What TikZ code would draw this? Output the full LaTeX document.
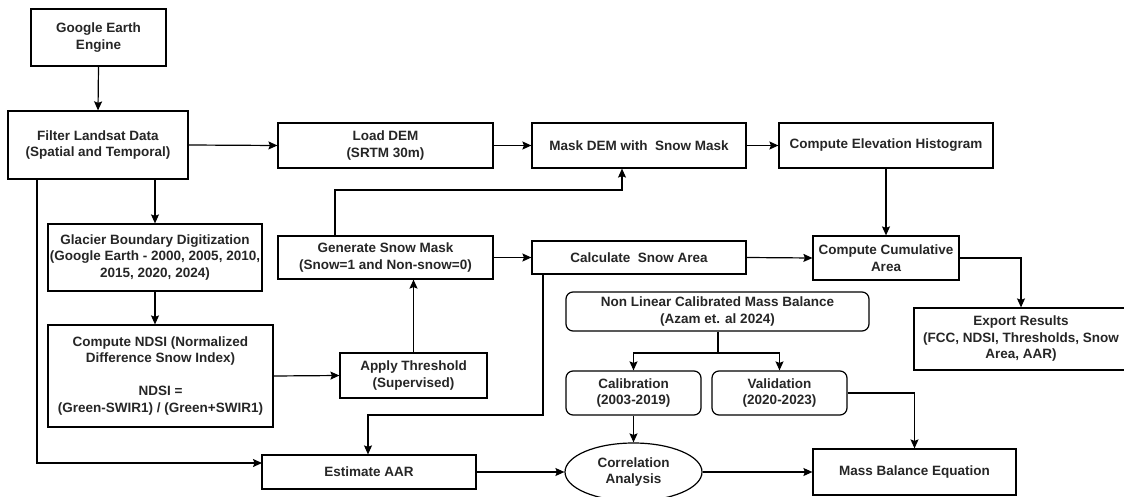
\documentclass[tikz,border=0pt]{standalone}
\usepackage{fontspec}
\setmainfont{Liberation Sans}
\usetikzlibrary{arrows.meta,shapes.geometric}
\begin{document}
\begin{tikzpicture}[x=1pt,y=-1pt,
  every node/.style={font=\fontsize{13.5}{16.5}\selectfont\bfseries, text=black!85, align=center, inner sep=0pt},
  box/.style={draw, line width=1.2pt, rectangle},
  rbox/.style={draw, line width=1.2pt, rectangle, rounded corners=7pt},
  oval/.style={draw, line width=1.2pt, ellipse},
  conn/.style={draw, line width=1.2pt, -{Stealth[length=9pt,width=8pt,inset=1.5pt]}},
  plain/.style={draw, line width=1.2pt}]
\useasboundingbox (0,0) rectangle (1124,497);
\fill[white] (0,0) rectangle (1124,497);
% nodes
\node[box, minimum width=135, minimum height=57] (gee) at (98.5,37.5) {Google Earth\\Engine};
\node[box, minimum width=180, minimum height=68] (filt) at (98,145) {Filter Landsat Data\\(Spatial and Temporal)};
\node[box, minimum width=215, minimum height=45] (dem) at (385.5,145.5) {Load DEM\\(SRTM 30m)};
\node[box, minimum width=214, minimum height=45] (mask) at (639,145.5) {Mask DEM with\ \ Snow Mask};
\node[box, minimum width=214, minimum height=45] (hist) at (886,145.5) {Compute Elevation Histogram};
\node[box, minimum width=214, minimum height=67] (glac) at (155,257.5) {Glacier Boundary Digitization\\(Google Earth - 2000, 2005, 2010,\\2015, 2020, 2024)};
\node[box, minimum width=225, minimum height=102] (ndsi) at (160.5,376) {Compute NDSI (Normalized\\Difference Snow Index)\\[16.5pt]NDSI =\\(Green-SWIR1) / (Green+SWIR1)};
\node[box, minimum width=215, minimum height=43] (gsm) at (385.5,257.5) {Generate Snow Mask\\(Snow=1 and Non-snow=0)};
\node[box, minimum width=147, minimum height=45] (thr) at (413.5,375.5) {Apply Threshold\\(Supervised)};
\node[box, minimum width=214, minimum height=33] (csa) at (639,257.5) {Calculate\ \ Snow Area};
\node[box, minimum width=146, minimum height=44] (cum) at (886,258) {Compute Cumulative\\Area};
\node[rbox, minimum width=303, minimum height=39] (nlc) at (717.5,311.5) {Non Linear Calibrated Mass Balance\\(Azam et. al 2024)};
\node[rbox, minimum width=135, minimum height=44] (cal) at (633.5,393) {Calibration\\(2003-2019)};
\node[rbox, minimum width=135, minimum height=44] (val) at (779.5,393) {Validation\\(2020-2023)};
\node[box, minimum width=214, minimum height=62] (exp) at (1021,339) {Export Results\\(FCC, NDSI, Thresholds, Snow\\Area, AAR)};
\node[box, minimum width=214, minimum height=34] (aar) at (369,472) {Estimate AAR};
\node[oval, minimum width=137, minimum height=58] (corr) at (633.5,472) {Correlation\\Analysis};
\node[box, minimum width=203, minimum height=46] (mbe) at (914.5,472) {Mass Balance Equation};
% connectors
\draw[conn] (gee.south) -- (filt.north);
\draw[conn] (filt.east) -- (dem.west);
\draw[conn] (dem.east) -- (mask.west);
\draw[conn] (mask.east) -- (hist.west);
\draw[conn] (filt.south -| glac.north) -- (glac.north);
\coordinate (aarin) at (262,463);
\draw[conn] (filt.south -| 37,0) -- (37,463) -- (aarin);
\draw[conn] (glac.south) -- (glac.south |- ndsi.north);
\draw[conn] (ndsi.east) -- (thr.west);
\draw[conn] (thr.north) -- (thr.north |- gsm.south);
\draw[conn] (gsm.north -| 335,0) -- (335,190) -- (622,190) -- (mask.south -| 622,0);
\draw[conn] (gsm.east) -- (csa.west);
\draw[conn] (csa.east) -- (cum.west);
\draw[conn] (hist.south) -- (cum.north);
\draw[conn] (cum.east) -- (1021,258) -- (exp.north);
\draw[conn] (csa.south -| 543,0) -- (543,415) -- (368,415) -- (aar.north -| 368,0);
\draw[plain] (nlc.south -| 718,0) -- (718,353);
\draw[conn] (718,353) -- (633.5,353) -- (cal.north);
\draw[conn] (718,353) -- (779.5,353) -- (val.north);
\draw[conn] (cal.south) -- (corr.north);
\draw[conn] (aar.east) -- (corr.west);
\draw[conn] (corr.east) -- (mbe.west);
\draw[conn] (val.east) -- (914.5,393) -- (mbe.north);
\end{tikzpicture}
\end{document}
